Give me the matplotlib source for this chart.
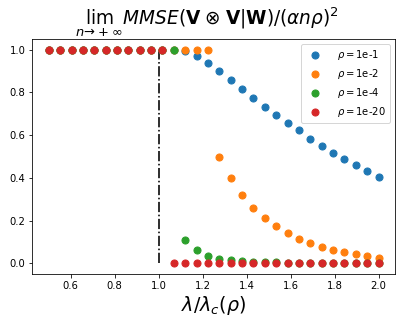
import numpy as np
import matplotlib
matplotlib.use("Agg")
import matplotlib.pyplot as plt

# lambda / lambda_c grid (30 evenly spaced points from 0.5 to 2.0)
lam = np.linspace(0.5, 2.0, 30)

labels = [r"$\rho=$1e-1", r"$\rho=$1e-2", r"$\rho=$1e-4", r"$\rho=$1e-20"]

mmse_rho_1e1 = [1.0] * 12 + [0.992, 0.969, 0.936, 0.898, 0.858, 0.817, 0.775, 0.734,
                             0.695, 0.656, 0.622, 0.584, 0.550, 0.517, 0.488, 0.459,
                             0.431, 0.406]
mmse_rho_1e2 = [1.0] * 15 + [0.497, 0.398, 0.322, 0.261, 0.214, 0.173, 0.142, 0.114,
                             0.094, 0.076, 0.062, 0.052, 0.042, 0.034, 0.026]
mmse_rho_1e4 = [1.0] * 12 + [0.108, 0.062, 0.036, 0.022, 0.015, 0.012, 0.0075, 0.005,
                             0.004, 0.003, 0.0025, 0.002, 0.0015, 0.0012, 0.001,
                             0.0008, 0.0006, 0.0005]
mmse_rho_1e20 = [1.0] * 11 + [0.0] * 19

series = [mmse_rho_1e1, mmse_rho_1e2, mmse_rho_1e4, mmse_rho_1e20]

fig = plt.figure(figsize=(407 / 72, 324 / 72), dpi=72)
ax = fig.add_axes([32.3 / 407, 1 - 274 / 324, (395 - 32.3) / 407, (274 - 39) / 324])

for vals, lab in zip(series, labels):
    ax.scatter(lam, vals, s=50, label=lab, zorder=3)

ax.vlines(1.0, 0.0, 1.0, colors="k", linestyles="-.", linewidth=1.6, zorder=2)

ax.set_xticks([0.6, 0.8, 1.0, 1.2, 1.4, 1.6, 1.8, 2.0])
ax.set_yticks([0.0, 0.2, 0.4, 0.6, 0.8, 1.0])
ax.tick_params(labelsize=10)
ax.set_xlabel(r"$\lambda/\lambda_c(\rho)$", fontsize=19, labelpad=3)
ax.set_title(r"$\lim_{n\to\;+\;\infty}MMSE(\mathbf{V}\;\otimes\;\mathbf{V}|\mathbf{W})/(\alpha n\rho)^2$",
             fontsize=18.5, pad=5, x=0.482)
ax.legend(loc="upper right", fontsize=10, handletextpad=1.2)

fig.savefig("out.png", dpi=72)
